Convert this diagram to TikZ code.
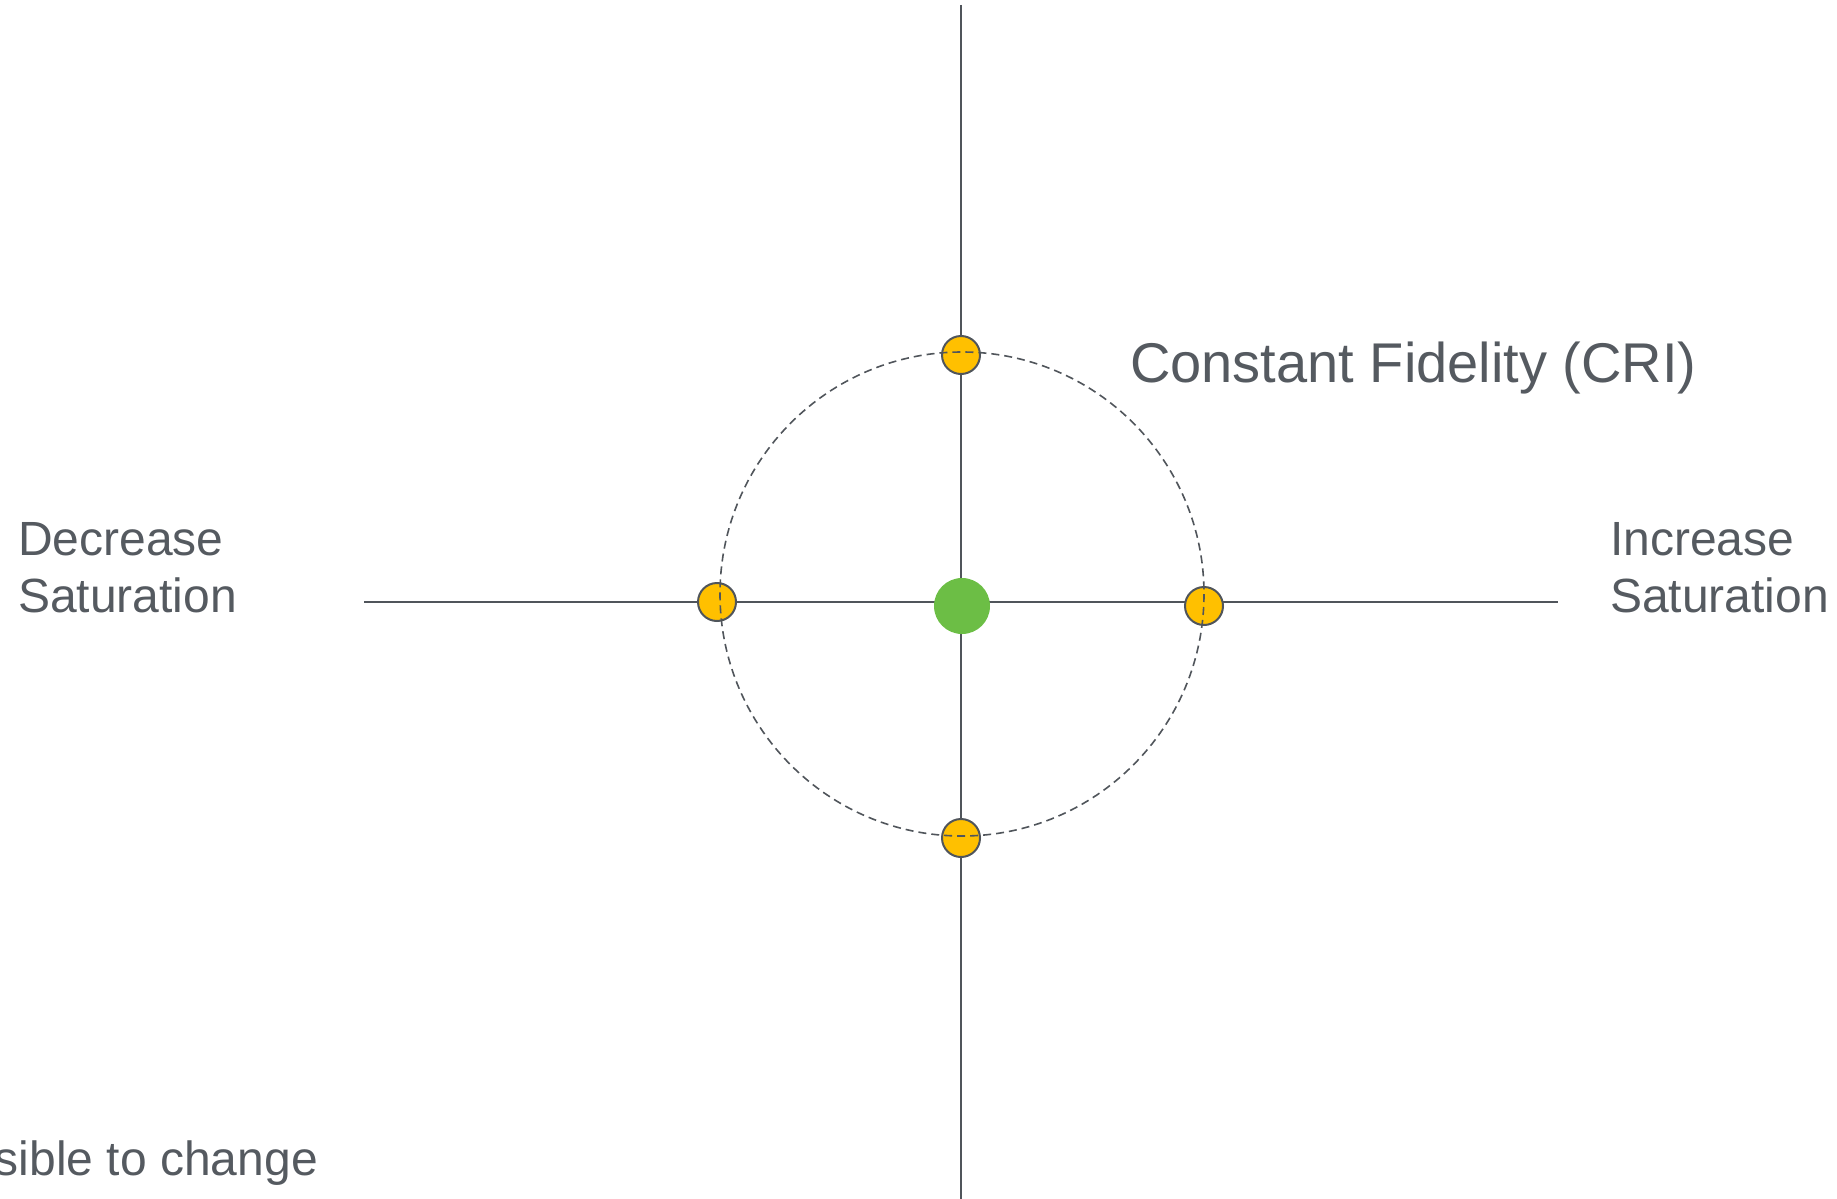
\documentclass[tikz,border=0pt]{standalone}
\usepackage{fontspec}
\setmainfont{Liberation Sans}
\definecolor{axisgray}{HTML}{50555B}
\definecolor{txtgray}{HTML}{555A60}
\definecolor{ygold}{HTML}{FFC000}
\definecolor{ggreen}{HTML}{6CBE45}
\tikzset{
  axisline/.style={draw=axisgray, line width=2},
  ringline/.style={draw=axisgray, line width=1.6, dash pattern=on 8 off 5},
  ydot/.style={circle, fill=ygold, draw=axisgray, line width=2, minimum size=38, inner sep=0},
  gdot/.style={circle, fill=ggreen, minimum size=56, inner sep=0},
  lbl/.style={text=txtgray, inner sep=0, align=left, font=\fontsize{48}{57}\selectfont},
  biglbl/.style={text=txtgray, inner sep=0, font=\fontsize{56}{67}\selectfont}
}
\begin{document}
\begin{tikzpicture}[x=1pt,y=-1pt]
\useasboundingbox (0,0) rectangle (1837,1199);
\clip (0,0) rectangle (1837,1199);
% axes
\coordinate (vtop) at (961,5);
\coordinate (vbot) at (961,1199);
\coordinate (hleft) at (364,602);
\coordinate (hright) at (1558,602);
\draw[axisline] (vtop) -- (vbot);
\draw[axisline] (hleft) -- (hright);
% yellow dots
\node[ydot] (ytop) at (961,355) {};
\node[ydot] (ybot) at (961,838) {};
\node[ydot] (yleft) at (717,602) {};
\node[ydot] (yright) at (1204,606) {};
% dashed ring
\coordinate (ringc) at (962,594);
\draw[ringline] (ringc) circle[radius=242];
% green centre
\node[gdot] (center) at (962,606) {};
% labels
\node[biglbl, anchor=base west] (cri) at (1130,382) {Constant Fidelity (CRI)};
\node[lbl, anchor=base west] (dec) at (18,612) {Decrease\\Saturation};
\node[lbl, anchor=base west] (inc) at (1610,612) {Increase\\Saturation};
\node[lbl, anchor=base east] (chg) at (318,1175) {sible to change};
\end{tikzpicture}
\end{document}
